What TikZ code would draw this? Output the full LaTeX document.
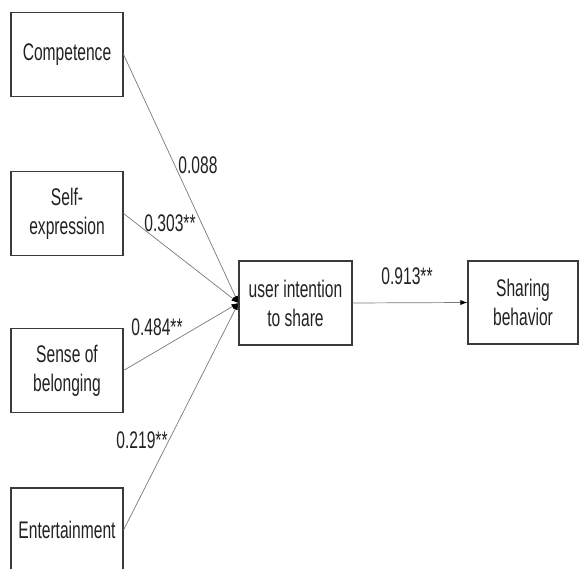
\documentclass[tikz,border=0pt]{standalone}
\usepackage{fontspec}
\setmainfont[FakeStretch=0.65]{Liberation Sans}
\usetikzlibrary{arrows.meta}
\definecolor{boxline}{HTML}{3A3A3A}
\definecolor{linkline}{HTML}{7A7A7A}
\definecolor{txt}{HTML}{222222}
\tikzset{
  box/.style={draw=boxline, line width=1.1pt, minimum width=112pt, minimum height=84pt,
    inner sep=0pt, align=center, text=txt, font=\fontsize{24}{29}\selectfont},
  coef/.style={inner sep=0pt, text=txt, font=\fontsize{24}{29}\selectfont},
  link/.style={draw=linkline, line width=0.7pt, -{Latex[length=7pt,width=5pt,fill=black,color=black]}}
}
\begin{document}
\begin{tikzpicture}[x=1pt,y=-1pt]
\useasboundingbox[fill=white] (0,0) rectangle (579,569);
\node[box] (comp) at (67,54.5) {Competence};
\node[box] (self) at (67,213.5) {Self-\\expression};
\node[box] (sense) at (67,370.5) {Sense of\\belonging};
\node[box] (ent) at (67,530) {Entertainment};
\node[box, minimum width=113pt] (ui) at (295.5,303) {user intention\\to share};
\node[box, minimum width=110pt, minimum height=83pt] (sb) at (523,302.5) {Sharing\\behavior};
\draw[link] (comp.east) -- (ui.west);
\draw[link] (self.east) -- (ui.west);
\draw[link] (sense.east) -- (ui.west);
\draw[link] (ent.east) -- (ui.west);
\draw[link] (ui.east) -- (sb.west);
\node[coef] (c1) at (198,165) {0.088};
\node[coef] (c2) at (170,223) {0.303**};
\node[coef] (c3) at (157,327) {0.484**};
\node[coef] (c4) at (142,440) {0.219**};
\node[coef] (c5) at (407,276) {0.913**};
\end{tikzpicture}
\end{document}
